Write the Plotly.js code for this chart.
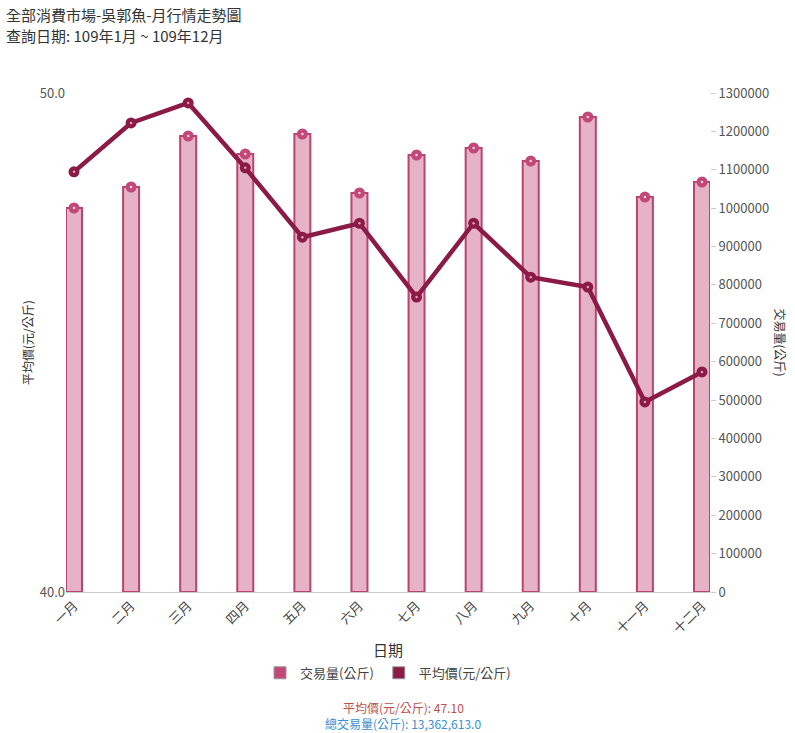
<!DOCTYPE html>
<html>
<head>
<meta charset="utf-8">
<script src="https://cdn.plot.ly/plotly-3.0.1.min.js"></script>
<style>
  html, body { margin: 0; padding: 0; background: #fff; }
  #chart { width: 795px; height: 733px; }
</style>
</head>
<body>
<div id="chart"></div>
<script>
// Monthly data
const months = ['一月', '二月', '三月', '四月', '五月', '六月', '七月', '八月', '九月', '十月', '十一月', '十二月'];
const volume = [1000400, 1055100, 1188000, 1141100, 1193200, 1039500, 1138500, 1156700, 1122800, 1237500, 1029000, 1068100];
const avgPrice = [48.42, 49.40, 49.80, 48.50, 47.11, 47.39, 45.91, 47.39, 46.31, 46.11, 43.81, 44.41];
const summaryPrice = '47.10';
const summaryVolume = '13,362,613.0';

const font = '"Noto Sans CJK TC", "Noto Sans", sans-serif';

// volume goes on the base axis (right side), price on the overlay so the line sits on top
const volumeBars = {
    x: months,
    y: volume,
    type: 'bar',
    width: 0.28,
    marker: { color: '#e6b3c6', line: { color: '#b8446f', width: 2 } },
    showlegend: false,
    hoverinfo: 'y'
};

const volumeDots = {
    x: months, y: volume, type: 'scatter', mode: 'markers',
    marker: { size: 11, color: '#c2487a' },
    showlegend: false, hoverinfo: 'skip'
};

const volumeCentres = {
    x: months, y: volume, type: 'scatter', mode: 'markers',
    marker: { size: 2.5, color: '#f3d6e1' }, showlegend: false, hoverinfo: 'skip'
};

const priceLine = {
    x: months,
    y: avgPrice,
    type: 'scatter',
    mode: 'lines+markers',
    yaxis: 'y2',
    line: { color: '#8b1a47', width: 4.5 },
    marker: { size: 11, color: '#8b1a47' },
    showlegend: false,
    hoverinfo: 'y'
};

const priceCentres = {
    x: months, y: avgPrice, type: 'scatter', mode: 'markers', yaxis: 'y2',
    marker: { size: 2.5, color: '#d9a3b8' }, showlegend: false, hoverinfo: 'skip'
};

// legend swatches
const legendVolume = {
    x: [months[0]], y: [null], type: 'bar', name: '交易量(公斤)',
    marker: { color: '#c2487a', line: { color: '#999', width: 1 } }
};
const legendPrice = {
    x: [months[0]], y: [null], type: 'bar', name: '平均價(元/公斤)',
    marker: { color: '#8b1a47', line: { color: '#999', width: 1 } }
};

const layout = {
    width: 795,
    height: 733,
    margin: { l: 66, r: 85, t: 93, b: 141 },
    paper_bgcolor: '#fff',
    plot_bgcolor: '#fff',
    font: { family: font, color: '#555', size: 13 },
    barmode: 'overlay',
    xaxis: {
        type: 'category',
        range: [-0.14, 11.14],
        tickangle: -45,
        ticks: '',
        showgrid: false,
        showline: true,
        linecolor: '#ccc',
        tickfont: { size: 13, color: '#444' }
    },
    yaxis: {
        side: 'right',
        range: [0, 1300000],
        dtick: 100000,
        tickformat: '.0f',
        showgrid: false,
        zeroline: false,
        ticks: 'outside',
        ticklen: 5,
        tickcolor: '#ccc',
        tickfont: { size: 13, color: '#555' }
    },
    yaxis2: {
        overlaying: 'y',
        side: 'left',
        range: [40, 50],
        tickvals: [40, 50],
        tickformat: '.1f',
        showgrid: true,
        gridcolor: '#ddd',
        zeroline: false,
        ticks: '',
        tickfont: { size: 13, color: '#555' }
    },
    legend: {
        orientation: 'h',
        x: 0.5, xanchor: 'center',
        y: -0.162, yanchor: 'middle',
        font: { size: 13, color: '#444' },
        traceorder: 'normal'
    },
    annotations: [
        { text: '全部消費市場-吳郭魚-月行情走勢圖', xref: 'paper', yref: 'paper',
          x: -0.097, xanchor: 'left', y: 1.158, yanchor: 'middle',
          showarrow: false, font: { size: 15, color: '#333' } },
        { text: '查詢日期: 109年1月 ~ 109年12月', xref: 'paper', yref: 'paper',
          x: -0.097, xanchor: 'left', y: 1.116, yanchor: 'middle',
          showarrow: false, font: { size: 15, color: '#333' } },
        { text: '日期', xref: 'paper', yref: 'paper', x: 0.5, y: -0.116, yanchor: 'middle',
          showarrow: false, font: { size: 15, color: '#333' } },
        { text: '平均價(元/公斤)', xref: 'paper', yref: 'paper', x: -0.076, y: 0.5,
          textangle: -90, showarrow: false, font: { size: 12, color: '#333' } },
        { text: '交易量(公斤)', xref: 'paper', yref: 'paper', x: 1.125, y: 0.5,
          textangle: 90, showarrow: false, font: { size: 12, color: '#333' } },
        { text: '平均價(元/公斤): ' + summaryPrice, xref: 'paper', yref: 'paper', x: 0.524, y: -0.232,
          yanchor: 'middle', showarrow: false, font: { size: 12, color: '#c0504d' } },
        { text: '總交易量(公斤): ' + summaryVolume, xref: 'paper', yref: 'paper', x: 0.524, y: -0.264,
          yanchor: 'middle', showarrow: false, font: { size: 12, color: '#3a8fd0' } }
    ]
};

Plotly.newPlot('chart',
    [volumeBars, volumeDots, volumeCentres, priceLine, priceCentres, legendVolume, legendPrice],
    layout, { displayModeBar: false });
</script>
</body>
</html>
